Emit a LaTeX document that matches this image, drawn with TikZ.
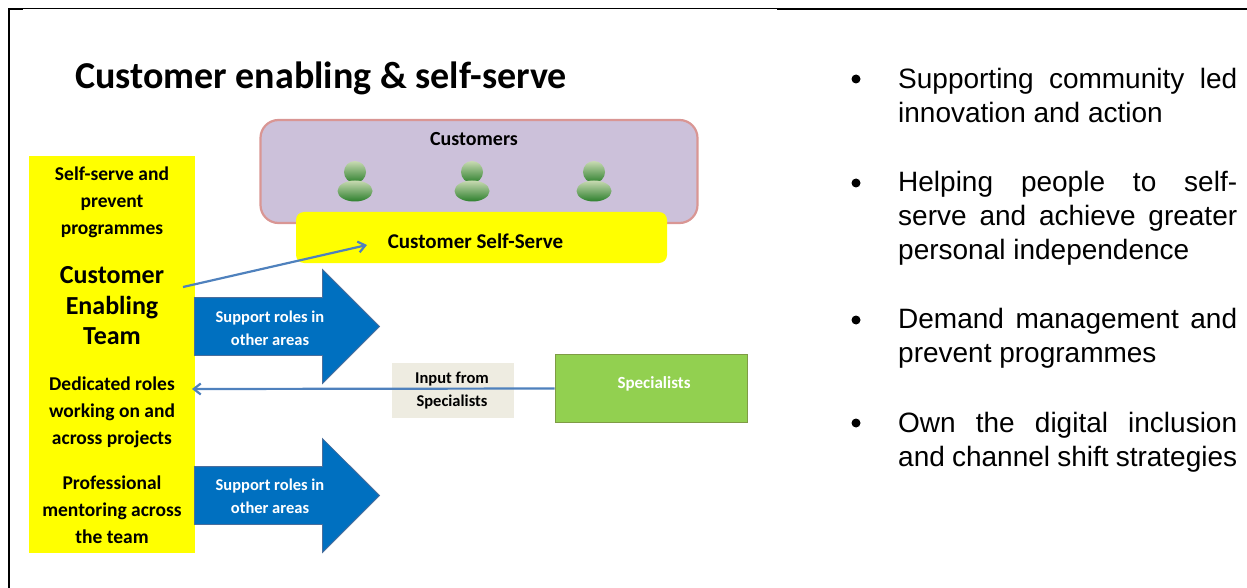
\documentclass[tikz,border=0pt]{standalone}
\usepackage{fontspec}
\setmainfont{Carlito}
\newfontfamily\bulletfont{Liberation Sans}
\usetikzlibrary{shapes.arrows, shapes.geometric, arrows.meta}
\definecolor{bandyellow}{RGB}{255,255,0}
\definecolor{custfill}{HTML}{CCC1DA}
\definecolor{custedge}{HTML}{D99694}
\definecolor{roleblue}{HTML}{0070C0}
\definecolor{roleedge}{HTML}{4A6E9C}
\definecolor{linkblue}{HTML}{4F81BD}
\definecolor{inputfill}{HTML}{EEECE1}
\definecolor{specfill}{HTML}{92D050}
\definecolor{specedge}{HTML}{7F9B45}
\definecolor{headtop}{HTML}{C8DAB2}
\definecolor{headend}{HTML}{2C7F2C}

\begin{document}
\begin{tikzpicture}[x=1pt, y=-1pt, >={Straight Barb[length=7pt,width=11pt]}, inner sep=0pt, font=\bfseries]
  \tikzstyle{band} = [fill=bandyellow, rectangle, minimum width=166pt, minimum height=397pt]
  \tikzstyle{roles} = [single arrow, fill=roleblue, draw=roleedge, line width=0.8pt, inner ysep=28.5pt, minimum height=185pt, single arrow head extend=28pt, anchor=tip]
  \tikzstyle{small} = [align=center, font=\fontsize{19.5}{27}\selectfont\bfseries]
  \tikzstyle{rolestext} = [small, text=white, font=\fontsize{16.5}{23}\selectfont\bfseries]
  \tikzstyle{head} = [circle, minimum size=22pt, top color=headtop, bottom color=headend]
  \tikzstyle{torso} = [ellipse, minimum width=35pt, minimum height=21pt, top color=headtop, middle color=headtop, bottom color=headend]
  \tikzstyle{point} = [text width=339pt, align=justify, anchor=west, font=\bulletfont\mdseries\fontsize{28}{34}\selectfont, execute at begin node={\hyphenpenalty=10000 \tolerance=9999 }]
  \tikzstyle{dot} = [circle, fill=black, minimum size=9pt]
  \tikzstyle{link} = [->, draw=linkblue, line width=2.2pt]
  \useasboundingbox (0,0) rectangle (1247,588);

  % frame
  \draw [line width=2pt] (9,588) -- (9,9) -- (23,9);
  \draw [line width=1pt] (23,8.5) -- (777,8.5);
  \draw [line width=2pt] (777,9) -- (1247,9);

  \node [anchor=west, font=\fontsize{38}{42}\selectfont\bfseries] (title) at (75,78) {Customer enabling \& self-serve};

  % left column
  \node [band] (column) at (112,354.5) {};
  \node [small] (prevent) at (112,202) {Self-serve and\\prevent\\programmes};
  \node [align=center, font=\fontsize{26}{30.5}\selectfont\bfseries] (enabling) at (112,306) {Customer\\Enabling\\Team};
  \node [small] (dedicated) at (112,412.5) {Dedicated roles\\working on and\\across projects};
  \node [small] (mentoring) at (112,510) {Professional\\mentoring across\\the team};
  \coordinate (enablingout) at (183,287);
  \coordinate (columnin) at (192,389);

  % customers
  \node [draw=custedge, fill=custfill, line width=2.2pt, rectangle, rounded corners=18pt, minimum width=437pt, minimum height=103pt] (customers) at (479,171.5) {};
  \node [small, font=\fontsize{20}{24}\selectfont\bfseries] (customerstext) at (474,139.5) {Customers};
  \node [head] (head1) at (355,172) {};
  \node [torso] (torso1) at (355,191) {};
  \node [head] (head2) at (472,172) {};
  \node [torso] (torso2) at (472,191) {};
  \node [head] (head3) at (594,172) {};
  \node [torso] (torso3) at (594,191) {};
  \node [fill=bandyellow, rectangle, rounded corners=8pt, minimum width=371pt, minimum height=51pt] (selfserve) at (481.5,237.5) {};
  \node [small, font=\fontsize{21}{24}\selectfont\bfseries] (selfservetext) at (475.5,241) {Customer Self-Serve};
  \coordinate (selfservein) at (367,245);

  % support roles
  \node [roles] (roles1) at (380,326.5) {};
  \node [rolestext] (roles1text) at (270,328) {Support roles in\\other areas};
  \node [roles] (roles2) at (380,495.5) {};
  \node [rolestext] (roles2text) at (270,496) {Support roles in\\other areas};

  % specialists
  \node [fill=inputfill, rectangle, minimum width=122pt, minimum height=55pt] (input) at (453,390.5) {};
  \node [rolestext, text=black] (inputtext) at (452,391) {Input from\\Specialists};
  \node [draw=specedge, fill=specfill, line width=1.6pt, rectangle, minimum width=192pt, minimum height=68pt] (specialists) at (651.5,388.5) {};
  \node [rolestext, font=\fontsize{17}{23}\selectfont\bfseries] (specialiststext) at (654,384) {Specialists};

  \draw [link] (enablingout) -- (selfservein);
  \draw [link] (specialists.west) -- (columnin);

  % bullets
  \node [dot] (dot1) at (856,79) {};
  \node [point] (point1) at (898,95) {Supporting community led innovation and action};
  \node [dot] (dot2) at (856,183) {};
  \node [point] (point2) at (898,218) {Helping people to self-serve and achieve greater personal independence};
  \node [dot] (dot3) at (856,320) {};
  \node [point] (point3) at (898,338) {Demand management and prevent programmes};
  \node [dot] (dot4) at (856,423) {};
  \node [point] (point4) at (898,442) {Own the digital inclusion and channel shift strategies};
\end{tikzpicture}
\end{document}
